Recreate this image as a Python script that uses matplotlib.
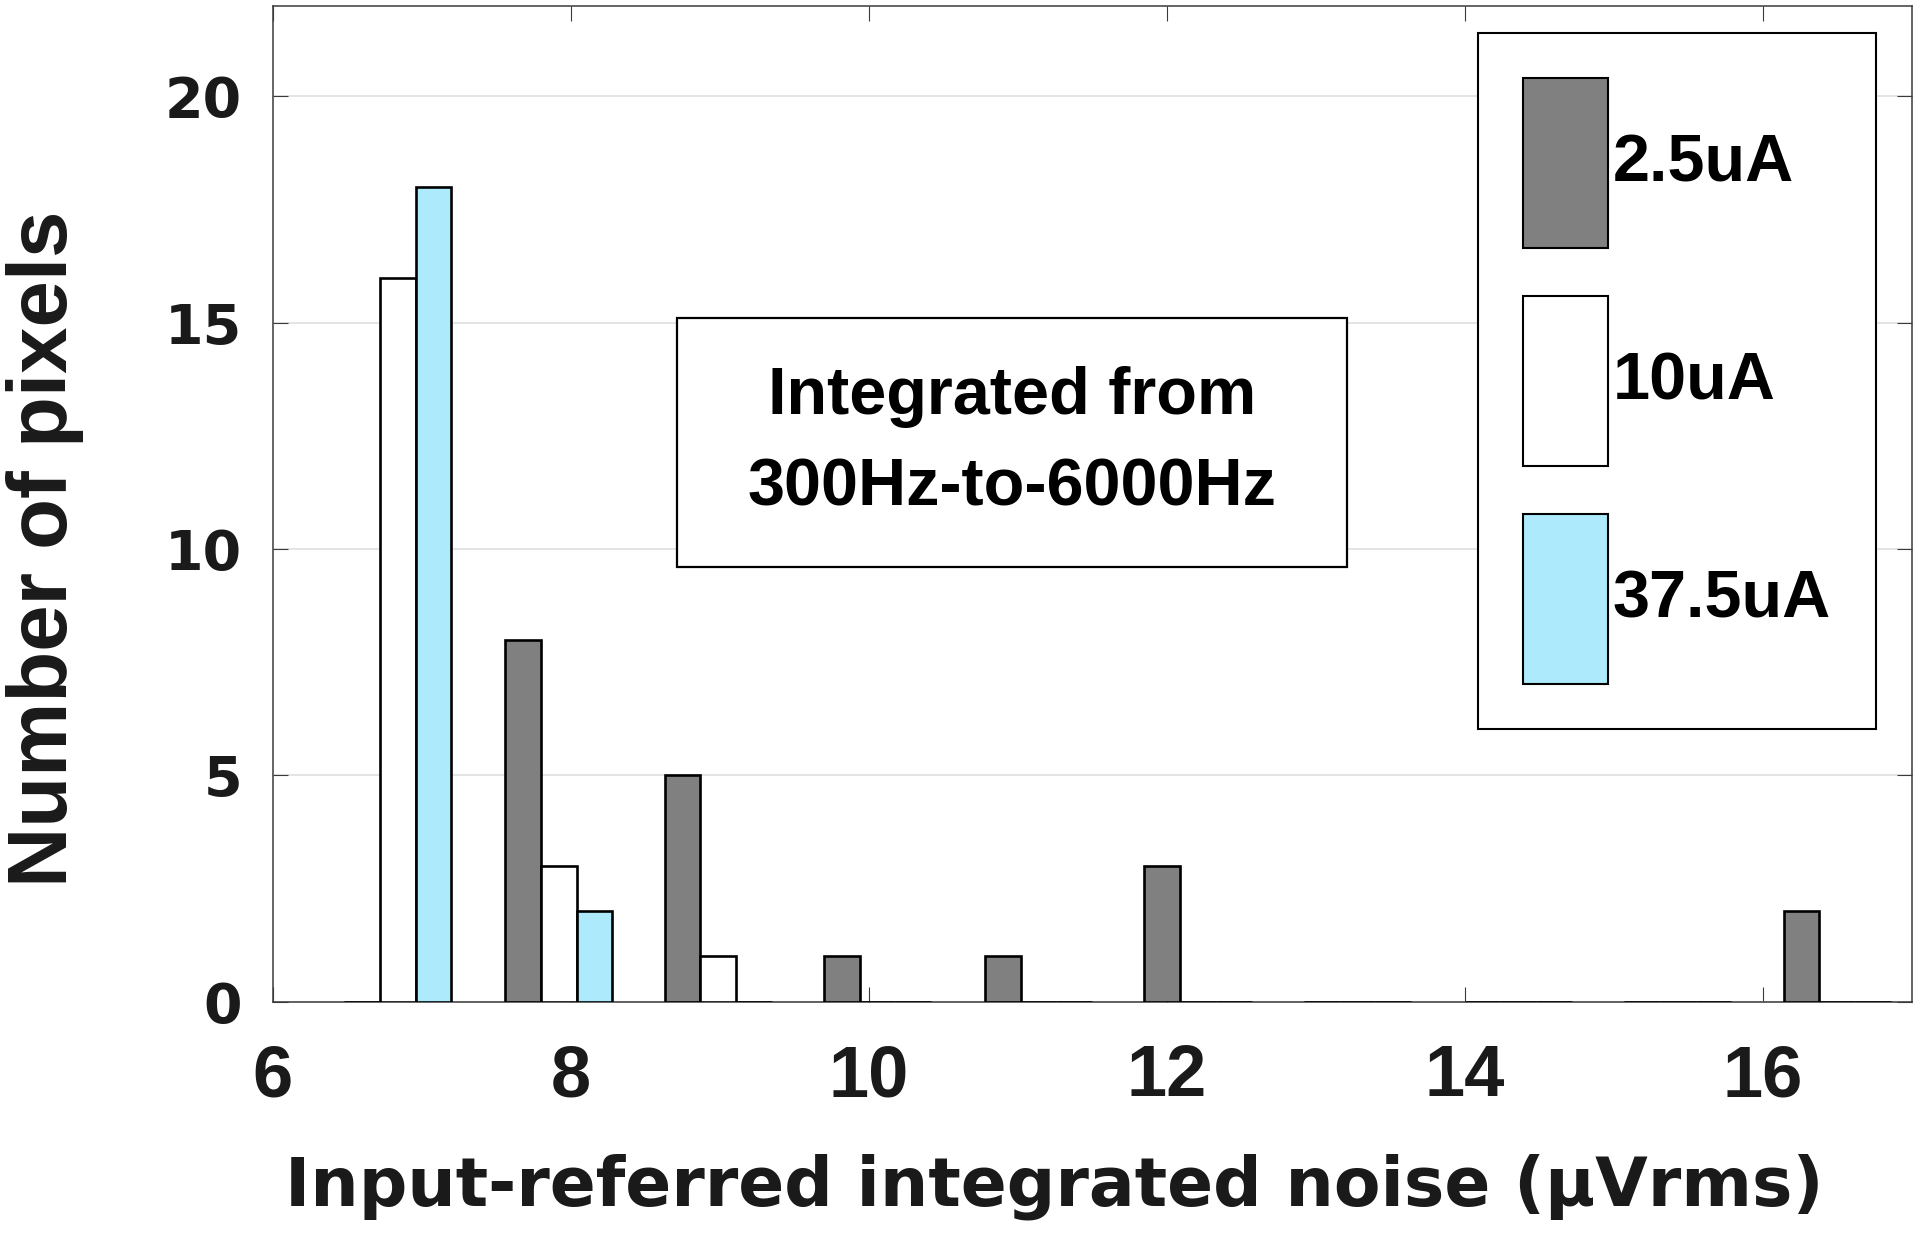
import matplotlib
matplotlib.use("Agg")
import matplotlib.pyplot as plt
from matplotlib import font_manager
from matplotlib.patches import Rectangle
import numpy as np

# histogram bin centres (uVrms) and number of pixels per bias current
centres = [6.84, 7.92, 8.99, 10.06, 11.14, 12.21, 13.28, 14.36, 15.43, 16.50]
counts_2p5 = [0, 8, 5, 1, 1, 3, 0, 0, 0, 2]
counts_10 = [16, 3, 1, 0, 0, 0, 0, 0, 0, 0]
counts_37p5 = [18, 2, 0, 0, 0, 0, 0, 0, 0, 0]
labels = ["2.5uA", "10uA", "37.5uA"]
colors = ["#808080", "#ffffff", "#adebfc"]
xticks = [6, 8, 10, 12, 14, 16]
yticks = [0, 5, 10, 15, 20]

have = {f.name for f in font_manager.fontManager.ttflist}
NARROW = "Liberation Sans Narrow" if "Liberation Sans Narrow" in have else "Liberation Sans"
BOX_FS = 57 if NARROW == "Liberation Sans Narrow" else 48
INK = "#1a1a1a"

fig = plt.figure(figsize=(19.2, 12.4), dpi=100)
ax = fig.add_axes([0.1420, 0.1922, 0.8537, 0.8030])

w = 0.24
x = np.array(centres)
for k, (vals, col, lab) in enumerate(zip([counts_2p5, counts_10, counts_37p5], colors, labels)):
    ax.bar(x + (k - 1) * w, vals, width=w, color=col, edgecolor="black",
           linewidth=1.9, label=lab, zorder=3)

ax.set_xlim(6, 17)
ax.set_ylim(0, 22)
ax.set_xticks(xticks)
ax.set_yticks(yticks)
ax.yaxis.grid(True, color="#dddddd", linewidth=1.1, zorder=0)
ax.set_axisbelow(True)
for s in ax.spines.values():
    s.set_color("#3a3a3a")
    s.set_linewidth(1.1)
ax.tick_params(direction="in", length=11, width=0.8, color="#3a3a3a",
               top=True, right=True, colors=INK)
ax.tick_params(axis="x", pad=30, labelsize=52)
ax.tick_params(axis="y", pad=22, labelsize=40)
for t in ax.get_xticklabels():
    t.set_fontfamily("Liberation Sans")
    t.set_fontweight("bold")
for t in ax.get_yticklabels():
    t.set_fontfamily("DejaVu Sans")
    t.set_fontweight("bold")

ax.set_xlabel("Input-referred integrated noise (\u00b5Vrms)", fontsize=49,
              fontweight="bold", family="DejaVu Sans", color=INK, va="baseline")
ax.xaxis.set_label_coords(0.477, -0.2052)
ax.set_ylabel("Number of pixels", fontsize=60, fontweight="bold",
              family="Liberation Sans", color=INK, va="baseline")
ax.yaxis.set_label_coords(-0.1255, 0.4547)

# annotation box
ax.add_patch(Rectangle((0.2467, 0.4366), 0.4088, 0.2501, transform=ax.transAxes,
                       facecolor="white", edgecolor="black", linewidth=1.6, zorder=4))
ax.text(0.451, 0.5616, "Integrated from\n300Hz-to-6000Hz", transform=ax.transAxes,
        ha="center", va="center", multialignment="center", fontsize=BOX_FS,
        fontweight="bold", family=NARROW, color="black", linespacing=1.62, zorder=5)

leg = ax.legend(loc="upper right", bbox_to_anchor=(0.9782, 0.9729), borderaxespad=0,
                prop={"family": "Liberation Sans", "weight": "bold", "size": 48},
                handlelength=1.28, handleheight=3.53, handletextpad=0.06,
                labelspacing=0.73, borderpad=0.68, fancybox=False, framealpha=1)
leg.get_frame().set_edgecolor("black")
leg.get_frame().set_linewidth(1.5)
for p in leg.get_patches():
    p.set_linewidth(1.5)

fig.savefig("out.png", dpi=100)
